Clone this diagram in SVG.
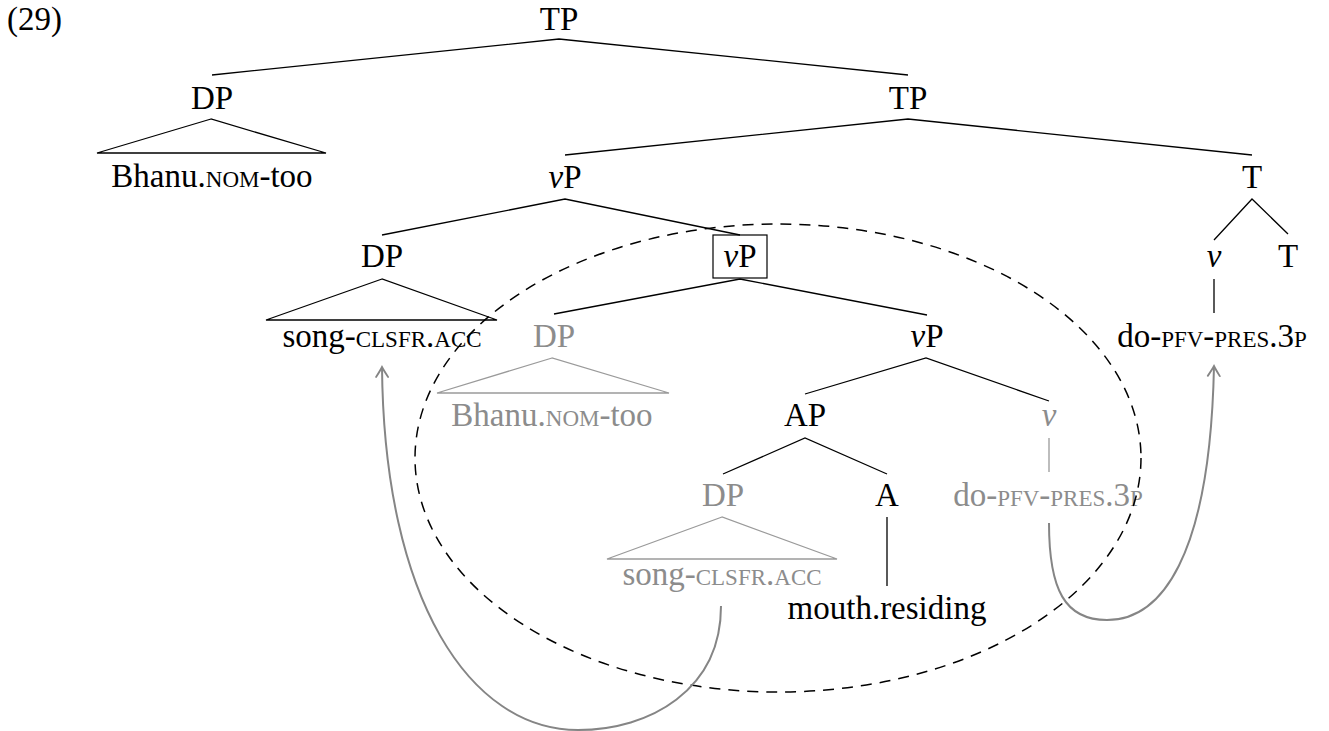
<svg xmlns="http://www.w3.org/2000/svg" width="1329" height="731" viewBox="0 0 1329 731" font-family="'Liberation Serif', 'DejaVu Serif', serif">
  <defs>
    <style>
      text { font-family: 'Liberation Serif', 'DejaVu Serif', serif; font-size: 33px; text-anchor: middle; fill: #000; }
      text.num { text-anchor: start; }
      .gray { fill: #8c8c8c; }
      .sc { font-variant: small-caps; }
      .it { font-style: italic; }
      .edge { stroke: #000; stroke-width: 1.3; fill: none; }
      .edge-g { stroke: #9a9a9a; stroke-width: 1.3; fill: none; }
      .box { stroke: #000; stroke-width: 1.2; fill: none; }
      .move { stroke: #858585; stroke-width: 2; fill: none; marker-end: url(#tip); }
      .domain { stroke: #000; stroke-width: 1.5; fill: none; stroke-dasharray: 11 8; }
    </style>
    <marker id="tip" markerUnits="userSpaceOnUse" viewBox="-12 -8 14 16" markerWidth="14" markerHeight="16" refX="0" refY="0" orient="auto">
      <path d="M-10,-6 Q-3,-1.5 0,0 Q-3,1.5 -10,6" stroke="#858585" stroke-width="1.8" fill="none" stroke-linecap="round"/>
    </marker>
  </defs>

  <!-- example number -->
  <text class="num" x="7" y="30">(29)</text>

  <!-- tree nodes -->
  <g id="tp-root"><text x="559" y="30">TP</text></g>
  <g id="dp-subj"><text x="212" y="109">DP</text></g>
  <g id="tp-bar"><text x="908" y="109">TP</text></g>
  <g id="dp-subj-leaf">
    <path class="edge" d="M211,119 L97,153 L326,153 Z"/>
    <text x="212" y="187">Bhanu.<tspan class="sc">nom</tspan>-too</text>
  </g>
  <g id="vp-high"><text x="565" y="188"><tspan class="it">v</tspan>P</text></g>
  <g id="t-head"><text x="1252" y="188">T</text></g>
  <g id="dp-obj"><text x="382" y="267">DP</text></g>
  <g id="vp-boxed">
    <rect class="box" x="713" y="235" width="54" height="43"/>
    <text x="740" y="267"><tspan class="it">v</tspan>P</text>
  </g>
  <g id="v-moved"><text x="1214" y="267" class="it">v</text></g>
  <g id="t-low"><text x="1288" y="267">T</text></g>
  <g id="dp-obj-leaf">
    <path class="edge" d="M382,279 L266,320 L497,320 Z"/>
    <text x="382" y="347">song-<tspan class="sc">clsfr.acc</tspan></text>
  </g>
  <g id="dp-subj-copy"><text x="554" y="347" class="gray">DP</text></g>
  <g id="vp-low"><text x="927" y="347"><tspan class="it">v</tspan>P</text></g>
  <g id="verb-high"><text x="1212" y="347">do-<tspan class="sc">pfv-pres.3p</tspan></text></g>
  <g id="dp-subj-copy-leaf">
    <path class="edge-g" d="M552,358 L437,393 L669,393 Z"/>
    <text x="552" y="426" class="gray">Bhanu.<tspan class="sc">nom</tspan>-too</text>
  </g>
  <g id="ap"><text x="805" y="426">AP</text></g>
  <g id="v-copy"><text x="1049" y="426" class="gray it">v</text></g>
  <g id="dp-obj-copy"><text x="723" y="506" class="gray">DP</text></g>
  <g id="a-head"><text x="887" y="506">A</text></g>
  <g id="verb-copy"><text x="1048" y="506" class="gray">do-<tspan class="sc">pfv-pres.3p</tspan></text></g>
  <g id="dp-obj-copy-leaf">
    <path class="edge-g" d="M722,517 L607,559 L837,559 Z"/>
    <text x="722" y="585" class="gray">song-<tspan class="sc">clsfr.acc</tspan></text>
  </g>
  <g id="a-leaf"><text x="887" y="619">mouth.residing</text></g>

  <!-- connectors -->
  <g id="connectors">
    <path class="edge" d="M212,75 L559,39 L908,75"/>
    <path class="edge" d="M565,155 L908,119 L1252,155"/>
    <path class="edge" d="M382,235 L565,199 L740,235"/>
    <path class="edge" d="M1214,240 L1252,199 L1288,234"/>
    <path class="edge" d="M1214,279 L1214,313"/>
    <path class="edge" d="M554,314 L740,279 L927,315"/>
    <path class="edge" d="M805,394 L926,358 L1049,401"/>
    <path class="edge-g" d="M1049,438 L1049,472"/>
    <path class="edge" d="M723,474 L805,438 L887,474"/>
    <path class="edge" d="M887,517 L887,586"/>

    <!-- spell-out domain -->
    <ellipse class="domain" cx="778" cy="458" rx="363" ry="234"/>

    <!-- movement arrows -->
    <path class="move" d="M721,606 C721,690 650,730 578,730 C470,730 384,600 382,367"/>
    <path class="move" d="M1049,523 C1049,590 1065,620 1107,620 C1160,620 1210,560 1214,366"/>
  </g>
</svg>
